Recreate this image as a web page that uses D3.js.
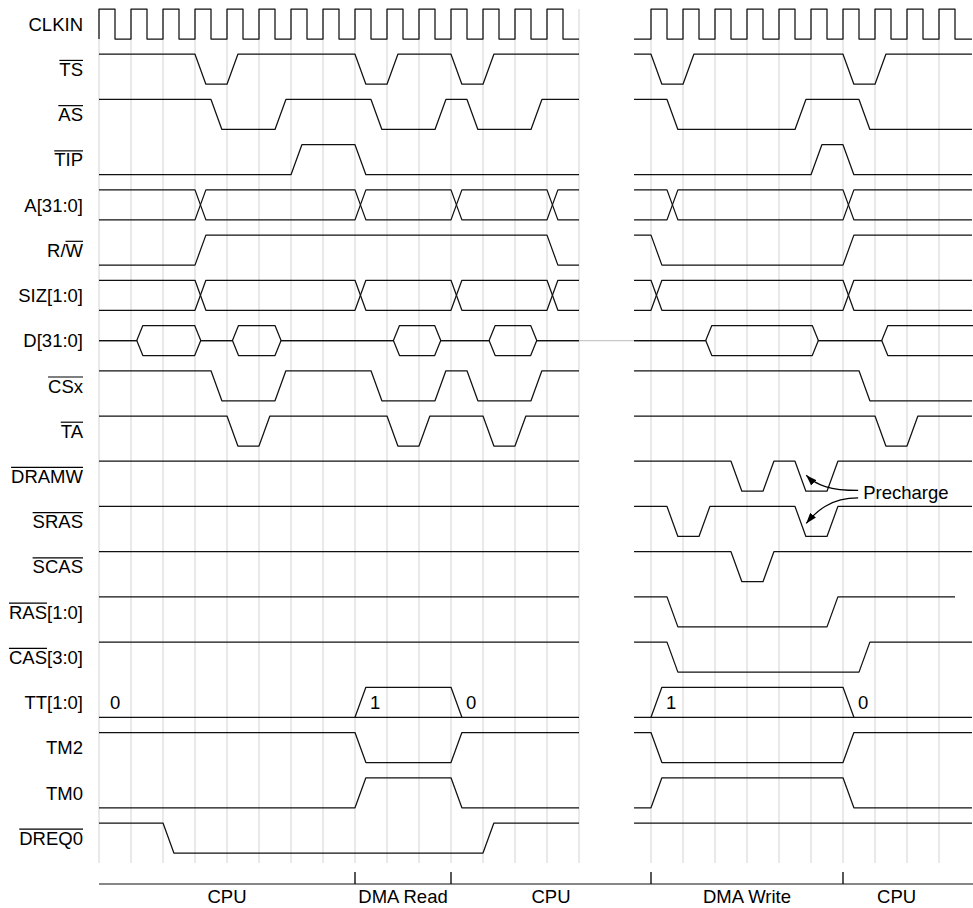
<!DOCTYPE html>
<html>
<head>
<meta charset="utf-8">
<script src="https://cdn.jsdelivr.net/npm/d3@7"></script>
<style>
	body { margin: 0; background: #fff; }
	text { font-family: "Liberation Sans", Arial, sans-serif; font-size: 18.5px; fill: #000; }
</style>
</head>
<body>
<div id="chart"></div>
<script>

let w = 973;
let h = 908;

// signal rows, top to bottom
const rowNames = ["CLKIN", "TS", "AS", "TIP", "A[31:0]", "R/W", "SIZ[1:0]", "D[31:0]", "CSx", "TA",
	"DRAMW", "SRAS", "SCAS", "RAS[1:0]", "CAS[3:0]", "TT[1:0]", "TM2", "TM0", "DREQ0"];
// characters [from, to) of each name that carry the active-low bar
const rowBars = [null, [0, 2], [0, 2], [0, 3], null, [2, 3], null, null, [0, 3], [0, 2],
	[0, 5], [0, 4], [0, 4], [0, 3], [0, 3], null, null, null, [0, 5]];

// times are in clock cycles; each panel has its own cycle count
const clockLeft = [0, 15];     // first rising edge, last cycle end
const clockRight = [0, 10];

// level-type signals: starting level (1 = high) and the times where they switch
const waveRows = ["TS", "AS", "TIP", "R/W", "CSx", "TA", "DRAMW", "SRAS", "SCAS", "RAS[1:0]", "CAS[3:0]", "TM2", "TM0", "DREQ0"];
const leftStart = [1, 1, 0, 0, 1, 1, 1, 1, 1, 1, 1, 1, 0, 1];
const leftEdges = [
	[3, 4, 8, 9, 11, 12],
	[3.5, 5.5, 8.5, 10.5, 11.5, 13.5],
	[6, 8],
	[3, 14],
	[3.5, 5.5, 8.5, 10.5, 11.5, 13.5],
	[4, 5, 9, 10, 12, 13],
	[], [], [], [], [],
	[8, 11],
	[8, 11],
	[2, 12]
];
const rightStart = [1, 1, 0, 1, 1, 1, 1, 1, 1, 1, 1, 1, 0, 1];
const rightEdges = [
	[0, 1, 6, 7],
	[0.5, 4.5, 6.5],
	[5, 6],
	[0, 6],
	[6.5],
	[7, 8],
	[2.5, 3.5, 4.5, 5.5],
	[0.5, 1.5, 4.5, 5.5],
	[2.5, 3.5],
	[0.5, 5.5],
	[0.5, 6.5],
	[0, 6],
	[0, 6],
	[]
];
const rasRightEnd = 9.5;

// bus crossings
const busRows = ["A[31:0]", "SIZ[1:0]"];
const busLeft = [[3, 8, 11, 14], [3, 8, 11, 14]];
const busRight = [[0.5, 6], [0, 6]];

// data bus valid windows
const dataLeft = [[1.18, 3.18], [4.17, 5.69], [9.2, 10.68], [12.19, 13.68]];
const dataRight = [[1.71, 5.23], [7.21, 10.8]];

// transfer type: bumps and the values written in the row
const ttLeft = [[8, 11]];
const ttRight = [[0, 6]];
const ttLeftText = [[0, "0"], [8, "1"], [11, "0"]];
const ttRightText = [[0, "1"], [6, "0"]];

// bus phases along the bottom
const phaseNames = ["CPU", "DMA Read", "CPU", "DMA Write", "CPU"];
const phaseBounds = [["L", 0], ["L", 8], ["L", 11], ["R", 0], ["R", 6], ["R", 9.35]];

const tr = 0.34;   // rise / fall time
const ds = 0.19;   // data valid slope
const amp = 30;

let viz = d3.select("#chart").append("svg")
	.attr("width", w)
	.attr("height", h)
	.style("background-color", "white");

let xL = d3.scaleLinear().domain([0, 15]).range([99, 579]);
let xR = d3.scaleLinear().domain([0, 10]).range([651, 971]);
let yRow = d3.scalePoint().domain(rowNames).range([9, 823]);

viz.append("defs").append("clipPath").attr("id", "rightClip")
	.append("rect").attr("x", xR(-0.53)).attr("y", 0).attr("width", w).attr("height", h);

let marker = viz.select("defs").append("marker")
	.attr("id", "head")
	.attr("markerUnits", "userSpaceOnUse")
	.attr("viewBox", "0 0 10 7")
	.attr("refX", 10).attr("refY", 3.5)
	.attr("markerWidth", 11).attr("markerHeight", 7.5)
	.attr("orient", "auto");
marker.append("path").attr("d", "M0,0 L10,3.5 L0,7 Z").attr("fill", "#000");

// vertical grid on the rising clock edges
let gridGroup = viz.append("g").attr("stroke", "#d3d3d3").attr("stroke-width", 1);
gridGroup.selectAll(".gl").data(d3.range(clockLeft[0], clockLeft[1] + 1)).join("line")
	.attr("class", "gl")
	.attr("x1", d => xL(d)).attr("x2", d => xL(d))
	.attr("y1", yRow("CLKIN")).attr("y2", 863);
gridGroup.selectAll(".gr").data(d3.range(clockRight[0], clockRight[1])).join("line")
	.attr("class", "gr")
	.attr("x1", d => xR(d)).attr("x2", d => xR(d))
	.attr("y1", yRow("CLKIN")).attr("y2", 863);

// the data line running through the gap
viz.append("line")
	.attr("x1", xL(15)).attr("x2", xR(-0.53))
	.attr("y1", yRow("D[31:0]") + amp / 2).attr("y2", yRow("D[31:0]") + amp / 2)
	.attr("stroke", "#c8c8c8").attr("stroke-width", 1.2);

// row labels
let labelGroup = viz.append("g");
rowNames.forEach(function(name, i){
	let base = yRow(name) + amp / 2 + 6.8;
	let t = labelGroup.append("text")
		.attr("x", 83).attr("y", base)
		.attr("text-anchor", "end")
		.text(name);
	let bar = rowBars[i];
	if (bar) {
		let node = t.node();
		let xa = node.getStartPositionOfChar(bar[0]).x;
		let xb = node.getEndPositionOfChar(bar[1] - 1).x;
		labelGroup.append("line")
			.attr("x1", xa).attr("x2", xb)
			.attr("y1", base - 15.6).attr("y2", base - 15.6)
			.attr("stroke", "#000").attr("stroke-width", 1.2);
	}
});

function levels(start, edges, t0, t1, dt){
	let pts = [[t0, start]];
	let lv = start;
	edges.forEach(function(e){
		pts.push([e, lv]);
		lv = 1 - lv;
		pts.push([e + dt, lv]);
	});
	pts.push([t1, lv]);
	return pts;
}

function dataPts(wins, side, t0, t1){
	let pts = [[t0, 0.5]];
	wins.forEach(function(d){
		pts.push([d[0], 0.5], [d[0] + ds, side], [d[1] - ds, side], [d[1], 0.5]);
	});
	if (t1 > wins[wins.length - 1][1]) pts.push([t1, 0.5]);
	return pts;
}

function drawPanel(p){
	let g = viz.append("g")
		.attr("fill", "none")
		.attr("stroke", "#111")
		.attr("stroke-width", 1.25)
		.attr("stroke-linejoin", "round");
	if (p.clip) g.attr("clip-path", "url(#" + p.clip + ")");

	let line = function(row){
		return d3.line()
			.x(d => p.x(d[0]))
			.y(d => yRow(row) + (1 - d[1]) * amp);
	};

	// clock: half-cycle high after each rising edge
	let clkEdges = [];
	d3.range(p.clock[0], p.clock[1]).forEach(k => clkEdges.push(k, k + 0.5));
	g.append("path").attr("d", line("CLKIN")(levels(0, clkEdges, p.t0, p.t1, 0)));

	waveRows.forEach(function(r, i){
		let end = (r === "RAS[1:0]" && p.rasEnd) ? p.rasEnd : p.t1;
		g.append("path").attr("d", line(r)(levels(p.start[i], p.edges[i], p.t0, end, tr)));
	});

	busRows.forEach(function(r, i){
		g.append("path").attr("d", line(r)(levels(1, p.bus[i], p.t0, p.t1, tr)));
		g.append("path").attr("d", line(r)(levels(0, p.bus[i], p.t0, p.t1, tr)));
	});

	g.append("path").attr("d", line("D[31:0]")(dataPts(p.data, 1, p.t0, p.t1)));
	g.append("path").attr("d", line("D[31:0]")(dataPts(p.data, 0, p.t0, p.t1)));

	// transfer type
	g.append("path").attr("d", line("TT[1:0]")([[p.t0, 0], [p.t1, 0]]));
	p.tt.forEach(function(d){
		g.append("path").attr("d", line("TT[1:0]")([[d[0], 0], [d[0] + tr, 1], [d[1], 1], [d[1] + tr, 0]]));
	});
	viz.append("g").selectAll("text").data(p.ttText).join("text")
		.attr("x", d => p.x(d[0]) + (d[0] === p.t0 || (p.t0 === 0 && d[0] === 0) ? 11 : 15))
		.attr("y", yRow("TT[1:0]") + amp / 2 + 6.5)
		.text(d => d[1]);
}

drawPanel({x: xL, t0: 0, t1: 15, clock: clockLeft, start: leftStart, edges: leftEdges,
	bus: busLeft, data: dataLeft, tt: ttLeft, ttText: ttLeftText});
drawPanel({x: xR, t0: -0.53, t1: 10.03, clock: clockRight, start: rightStart, edges: rightEdges,
	bus: busRight, data: dataRight, tt: ttRight, ttText: ttRightText, rasEnd: rasRightEnd, clip: "rightClip"});

// precharge note
let note = viz.append("g");
let noteX = xR(6.63);
let noteY = yRow("SRAS") - 7;
note.append("text").attr("x", noteX).attr("y", noteY).text("Precharge");
let heads = [
	[xR(4.85), yRow("DRAMW") + 14, noteY - 9, 10],
	[xR(4.85), yRow("SRAS") + 17, noteY - 1.5, -12]
];
note.selectAll("path").data(heads).join("path")
	.attr("d", function(d){
		let tx = noteX - 5;
		let p = d3.path();
		p.moveTo(tx, d[2]);
		p.bezierCurveTo(tx - 28, d[2], d[0] + 10, d[1] + d[3], d[0], d[1]);
		return p.toString();
	})
	.attr("fill", "none")
	.attr("stroke", "#000")
	.attr("stroke-width", 1.2)
	.attr("marker-end", "url(#head)");

// bus phase timeline
let phaseX = function(b){ return b[0] === "L" ? xL(b[1]) : xR(b[1]); };
let axisY = 884;
let phaseGroup = viz.append("g");
phaseGroup.append("line")
	.attr("x1", xL(0)).attr("x2", w)
	.attr("y1", axisY).attr("y2", axisY)
	.attr("stroke", "#111").attr("stroke-width", 1.2);
phaseGroup.selectAll(".tick").data(phaseBounds.slice(1, -1)).join("line")
	.attr("class", "tick")
	.attr("x1", d => phaseX(d)).attr("x2", d => phaseX(d))
	.attr("y1", axisY - 12).attr("y2", axisY)
	.attr("stroke", "#111").attr("stroke-width", 1.4);
phaseGroup.selectAll("text").data(phaseNames).join("text")
	.attr("x", (d, i) => (phaseX(phaseBounds[i]) + phaseX(phaseBounds[i + 1])) / 2)
	.attr("y", axisY + 19)
	.attr("text-anchor", "middle")
	.text(d => d);

</script>
</body>
</html>
